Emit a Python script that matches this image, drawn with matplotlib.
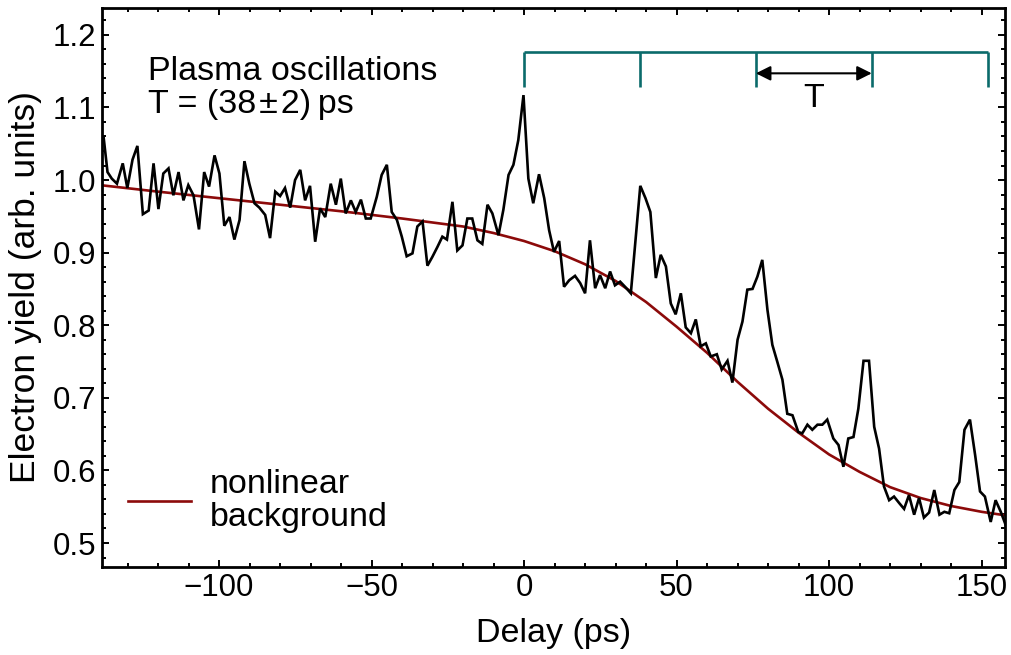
import matplotlib
matplotlib.use("Agg")
import matplotlib.pyplot as plt
from matplotlib.ticker import MultipleLocator

plt.rcParams['font.family'] = ['Liberation Sans', 'DejaVu Sans']

# ---- measured signal ----
delay_ps = [
    -137.9, -136.6, -135.2, -133.5, -131.6, -130.1, -128.4, -126.8, -125.0, -123.1,
    -121.5, -119.9, -118.3, -116.6, -115.0, -113.3, -111.7, -110.1, -108.4, -106.6,
    -104.9, -103.3, -101.5, -99.9, -98.3, -96.6, -95.0, -93.3, -91.7, -90.1,
    -88.4, -86.8, -84.9, -83.3, -81.6, -80.0, -78.4, -76.7,
    -75.1, -73.4, -71.8, -70.2, -68.5, -66.9, -65.2, -63.4, -61.7, -60.1,
    -58.5, -56.8, -55.2, -53.5, -51.9, -50.3, -48.3, -46.7, -45.0, -43.4,
    -41.7, -40.1, -38.5, -36.6, -35.0, -33.3, -31.7, -30.1, -28.4, -26.8,
    -25.3, -23.5, -21.9, -20.2, -18.6,
    -17.0, -15.3, -13.7, -12.0, -10.4, -8.4, -6.8, -5.1, -3.5, -1.9,
    -0.2, 1.4, 3.0, 4.9, 6.6, 8.2, 9.8, 11.5, 13.1, 14.8,
    16.7, 18.4, 20.0, 21.6, 23.3, 24.9, 26.6, 28.2, 29.8, 31.5,
    33.1, 35.0,
    38.1, 39.8, 41.4, 43.2, 44.8, 46.5, 48.1, 49.7, 51.4, 53.0,
    54.7, 56.3, 57.9, 59.6, 61.2, 63.2, 64.8, 66.7, 68.3, 70.0,
    71.6, 73.2, 74.9, 76.5, 78.1, 79.8, 81.4, 83.0, 84.7, 86.3,
    88.0, 89.9, 91.2, 92.9, 94.5, 96.2, 97.8, 99.4,
    101.4, 103.1, 104.7, 106.3, 108.0, 109.6, 111.3, 113.1, 114.8, 116.4,
    118.0, 119.7, 121.3, 123.0, 124.6, 126.2, 127.9, 129.5, 131.1, 132.8,
    134.5, 136.2, 137.8, 139.4, 141.1, 142.7, 144.4, 146.2, 147.9, 149.5,
    151.1, 153.0, 154.6, 156.3, 157.9,
]
electron_yield = [
    1.060, 1.011, 1.002, 0.995, 1.023, 0.989, 1.028, 1.047, 0.953, 0.958,
    1.023, 0.960, 1.009, 1.016, 0.979, 1.011, 0.972, 0.993, 0.979, 0.932,
    1.011, 0.991, 1.034, 1.009, 0.937, 0.949, 0.918, 0.945, 1.026, 0.995,
    0.968, 0.962, 0.952, 0.920, 0.984, 0.978, 0.989, 0.962,
    1.000, 1.014, 0.972, 0.992, 0.915, 0.961, 0.949, 0.995, 0.966, 1.002,
    0.954, 0.972, 0.956, 0.973, 0.947, 0.947, 0.977, 1.007, 1.021, 0.956,
    0.945, 0.922, 0.895, 0.899, 0.936, 0.943, 0.882, 0.894, 0.908, 0.922,
    0.918, 0.970, 0.903, 0.910, 0.947,
    0.947, 0.917, 0.912, 0.966, 0.954, 0.924, 0.959, 1.007, 1.021, 1.055,
    1.117, 1.002, 0.968, 1.008, 0.975, 0.931, 0.901, 0.916, 0.853, 0.862,
    0.868, 0.858, 0.844, 0.917, 0.851, 0.869, 0.851, 0.874, 0.855, 0.860,
    0.853, 0.844,
    0.992, 0.975, 0.956, 0.865, 0.897, 0.881, 0.830, 0.815, 0.844, 0.797,
    0.789, 0.808, 0.771, 0.775, 0.757, 0.760, 0.739, 0.751, 0.721, 0.780,
    0.805, 0.849, 0.850, 0.867, 0.890, 0.821, 0.773, 0.750, 0.725, 0.678,
    0.676, 0.653, 0.651, 0.663, 0.656, 0.663, 0.663, 0.670,
    0.644, 0.635, 0.605, 0.644, 0.646, 0.685, 0.751, 0.751, 0.660, 0.630,
    0.578, 0.559, 0.564, 0.555, 0.547, 0.566, 0.539, 0.562, 0.535, 0.542,
    0.573, 0.539, 0.543, 0.541, 0.573, 0.584, 0.656, 0.670, 0.621, 0.571,
    0.564, 0.529, 0.559, 0.543, 0.525,
]

# ---- nonlinear background ----
bg_delay = [-139, -120, -100, -80, -60, -40, -20, -10, 0, 10, 20, 30, 40,
            50, 60, 70, 80, 90, 100, 110, 120, 130, 140, 150, 158]
bg_yield = [0.993, 0.984, 0.975, 0.966, 0.957, 0.947, 0.936, 0.927, 0.916,
            0.902, 0.884, 0.861, 0.832, 0.798, 0.762, 0.722, 0.685, 0.652,
            0.622, 0.598, 0.577, 0.562, 0.551, 0.543, 0.538]

# ---- oscillation period markers ----
period_marks = [0, 38, 76, 114, 152]
period_label = "T"
title_lines = ["Plasma oscillations", "T = (38\u200a\u00b1\u200a2)\u2009ps"]

teal = '#0b6b6b'
dark_red = '#8c0a0a'
FS = 24.5

fig = plt.figure(figsize=(10.11, 6.55), dpi=100)
ax = fig.add_axes([0.1009, 0.1344, 0.8932, 0.8534])

ax.plot(delay_ps, electron_yield, color='black', lw=1.9, zorder=3,
        solid_joinstyle='miter')
ax.plot(bg_delay, bg_yield, color=dark_red, lw=1.9, zorder=2,
        label='nonlinear\nbackground')

# period comb
y_top, y_bot = 1.176, 1.128
ax.plot([period_marks[0], period_marks[-1]], [y_top, y_top], color=teal, lw=1.9,
        solid_capstyle='butt')
for p in period_marks:
    ax.plot([p, p], [y_top, y_bot], color=teal, lw=1.9, solid_capstyle='butt')
ax.annotate('', xy=(period_marks[2], 1.147), xytext=(period_marks[3], 1.147),
            arrowprops=dict(arrowstyle='<|-|>', color='black', lw=1.5,
                            mutation_scale=22, shrinkA=0, shrinkB=0))
ax.text((period_marks[2] + period_marks[3]) / 2, 1.112, period_label,
        ha='center', va='center', fontsize=FS)

ax.text(-123.3, 1.150, title_lines[0], ha='left', va='center', fontsize=FS)
ax.text(-123.3, 1.104, title_lines[1], ha='left', va='center', fontsize=FS)

ax.set_xlim(-138.4, 157.7)
ax.set_ylim(0.467, 1.237)
ax.xaxis.set_major_locator(MultipleLocator(50))
ax.xaxis.set_minor_locator(MultipleLocator(10))
ax.yaxis.set_major_locator(MultipleLocator(0.1))
ax.yaxis.set_minor_locator(MultipleLocator(0.02))
ax.yaxis.set_major_formatter(plt.FuncFormatter(lambda v, p: f"{v:.1f}"))
ax.xaxis.set_major_formatter(plt.FuncFormatter(
    lambda v, p: (f"\u2212{abs(v):.0f}" if v < 0 else f"{v:.0f}")))

ax.tick_params(which='both', direction='in', top=True, right=True,
               labelsize=22.5, width=1.4)
ax.tick_params(which='major', length=5, pad=4)
ax.tick_params(which='minor', length=3)
for s in ax.spines.values():
    s.set_linewidth(2.0)

ax.set_xlabel('Delay (ps)', fontsize=FS, labelpad=11)
ax.set_ylabel('Electron yield (arb. units)', fontsize=25.5, labelpad=8)

leg = ax.legend(loc='center left', bbox_to_anchor=(0.0288, 0.118), frameon=False,
                fontsize=FS, handlelength=1.85, handletextpad=0.55, borderpad=0,
                borderaxespad=0)
for t in leg.get_texts():
    t.set_linespacing(1.12)

fig.savefig('out.png', dpi=100)
